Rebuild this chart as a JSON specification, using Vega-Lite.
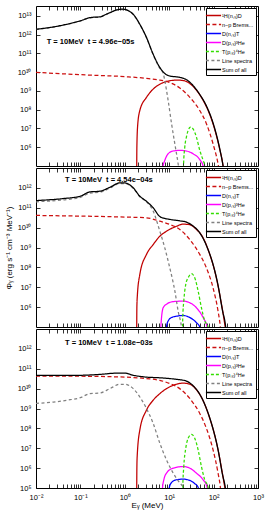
{
"$schema": "https://vega.github.io/schema/vega-lite/v6.json",
"background": "white",
"padding": {"left": 4, "top": 5, "right": 10, "bottom": 2},
"spacing": 0,
"config": {
  "view": {"stroke": "#000", "strokeWidth": 1},
  "axis": {"domain": false, "grid": false, "tickColor": "#000", "tickWidth": 0.8, "tickSize": -4, "minExtent": 0,
    "labelFont": "Liberation Sans", "labelFontSize": 7.5, "labelColor": "#000", "labelPadding": 9,
    "labelOverlap": false, "labelFlush": false, "labelBound": false,
    "titleFont": "Liberation Sans", "titleFontSize": 8, "titleFontWeight": "normal", "titleColor": "#000"},
  "legend": {"orient": "top-right", "offset": 2, "strokeColor": "#000", "fillColor": "#fff", "padding": 2,
    "labelFont": "Liberation Sans", "labelFontSize": 5.5, "labelColor": "#000", "symbolType": "M-1.6,0H1.6",
    "symbolSize": 90, "symbolStrokeWidth": 1.3, "rowPadding": 0, "title": null, "labelLimit": 60, "labelOffset": 3},
  "text": {"font": "Liberation Sans"}
},
"resolve": {"scale": {"color": "independent", "strokeDash": "independent"}, "legend": {"color": "independent", "strokeDash": "independent"}},
"datasets": {"d": [
{"p":1,"s":"H","e":1.84,"v":1e3},{"p":1,"s":"H","e":1.87,"v":1e6},{"p":1,"s":"H","e":1.95,"v":1.5e7},{"p":1,"s":"H","e":2.18,"v":9.1e7},{"p":1,"s":"H","e":3.08,"v":4.6e8},{"p":1,"s":"H","e":4.35,"v":1.26e9},{"p":1,"s":"H","e":6.15,"v":2.3e9},{"p":1,"s":"H","e":8.69,"v":3.2e9},{"p":1,"s":"H","e":14.6,"v":3.8e9},{"p":1,"s":"H","e":20.6,"v":3.6e9},{"p":1,"s":"H","e":29.1,"v":2.5e9},{"p":1,"s":"H","e":41,"v":1.1e9},{"p":1,"s":"H","e":58,"v":3.2e8},{"p":1,"s":"H","e":81.9,"v":5.6e7},{"p":1,"s":"H","e":106,"v":8.9e6},{"p":1,"s":"H","e":137,"v":7.9e5},{"p":1,"s":"H","e":163,"v":1e5},{"p":1,"s":"H","e":175,"v":2e4},
{"p":1,"s":"B","e":0.01,"v":9.8e9},{"p":1,"s":"B","e":0.0993,"v":7.4e9},{"p":1,"s":"B","e":1.0,"v":5.8e9},{"p":1,"s":"B","e":3.08,"v":4.7e9},{"p":1,"s":"B","e":6.15,"v":3.8e9},{"p":1,"s":"B","e":10,"v":2.9e9},{"p":1,"s":"B","e":17.3,"v":1.45e9},{"p":1,"s":"B","e":29.1,"v":4.6e8},{"p":1,"s":"B","e":48.8,"v":9.1e7},{"p":1,"s":"B","e":68.9,"v":1.8e7},{"p":1,"s":"B","e":97.3,"v":1.5e6},{"p":1,"s":"B","e":126,"v":1.3e5},{"p":1,"s":"B","e":140,"v":3e4},
{"p":1,"s":"DT","e":10,"v":1e3},{"p":1,"s":"DT","e":20,"v":3e4},{"p":1,"s":"DT","e":40,"v":1e3},
{"p":1,"s":"DHe","e":7.2,"v":1e3},{"p":1,"s":"DHe","e":7.31,"v":1e5},{"p":1,"s":"DHe","e":7.96,"v":2e5},{"p":1,"s":"DHe","e":9.47,"v":4.5e5},{"p":1,"s":"DHe","e":12.3,"v":6.3e5},{"p":1,"s":"DHe","e":17.3,"v":6.8e5},{"p":1,"s":"DHe","e":24.4,"v":6.3e5},{"p":1,"s":"DHe","e":34.5,"v":4.5e5},{"p":1,"s":"DHe","e":48.8,"v":2.2e5},{"p":1,"s":"DHe","e":58,"v":1e5},{"p":1,"s":"DHe","e":62,"v":1e4},
{"p":1,"s":"THe","e":20.6,"v":1e3},{"p":1,"s":"THe","e":21,"v":1e5},{"p":1,"s":"THe","e":22.4,"v":1e6},{"p":1,"s":"THe","e":24.4,"v":3.5e6},{"p":1,"s":"THe","e":26.7,"v":7.9e6},{"p":1,"s":"THe","e":30.1,"v":1.2e7},{"p":1,"s":"THe","e":34.5,"v":9.5e6},{"p":1,"s":"THe","e":41,"v":3.5e6},{"p":1,"s":"THe","e":48.8,"v":6.8e5},{"p":1,"s":"THe","e":58,"v":2e5},{"p":1,"s":"THe","e":63.2,"v":1e5},{"p":1,"s":"THe","e":68,"v":1e4},
{"p":1,"s":"L","e":0.01,"v":1.9e12},{"p":1,"s":"L","e":0.0412,"v":3.2e12},{"p":1,"s":"L","e":0.0993,"v":5.4e12},{"p":1,"s":"L","e":0.164,"v":8e12},{"p":1,"s":"L","e":0.275,"v":8.8e12},{"p":1,"s":"L","e":0.461,"v":1.48e13},{"p":1,"s":"L","e":0.652,"v":2.05e13},{"p":1,"s":"L","e":1.0,"v":2.2e13},{"p":1,"s":"L","e":1.55,"v":1.2e13},{"p":1,"s":"L","e":2.18,"v":3.5e12},{"p":1,"s":"L","e":3.08,"v":7e11},{"p":1,"s":"L","e":4.35,"v":8.8e10},{"p":1,"s":"L","e":6.15,"v":1.6e10},{"p":1,"s":"L","e":7.31,"v":9e9},{"p":1,"s":"L","e":7.96,"v":3.5e9},{"p":1,"s":"L","e":9.47,"v":3.1e8},{"p":1,"s":"L","e":11.3,"v":1.8e7},{"p":1,"s":"L","e":13.4,"v":1.5e6},{"p":1,"s":"L","e":15.9,"v":1.3e5},{"p":1,"s":"L","e":17.3,"v":3e4},
{"p":1,"s":"S","e":0.01,"v":1.95e12},{"p":1,"s":"S","e":0.0245,"v":2.6e12},{"p":1,"s":"S","e":0.0412,"v":3.3e12},{"p":1,"s":"S","e":0.0993,"v":5.5e12},{"p":1,"s":"S","e":0.164,"v":8.1e12},{"p":1,"s":"S","e":0.22,"v":8.7e12},{"p":1,"s":"S","e":0.275,"v":8.9e12},{"p":1,"s":"S","e":0.37,"v":1.2e13},{"p":1,"s":"S","e":0.461,"v":1.5e13},{"p":1,"s":"S","e":0.652,"v":2.1e13},{"p":1,"s":"S","e":0.85,"v":2.3e13},{"p":1,"s":"S","e":1.0,"v":2.24e13},{"p":1,"s":"S","e":1.2,"v":1.9e13},{"p":1,"s":"S","e":1.55,"v":1.23e13},{"p":1,"s":"S","e":2.18,"v":3.6e12},{"p":1,"s":"S","e":3.08,"v":7.1e11},{"p":1,"s":"S","e":4.35,"v":9.1e10},{"p":1,"s":"S","e":6.15,"v":1.8e10},{"p":1,"s":"S","e":7.96,"v":8.5e9},{"p":1,"s":"S","e":10.3,"v":6.3e9},{"p":1,"s":"S","e":17.3,"v":5.3e9},{"p":1,"s":"S","e":24.4,"v":4e9},{"p":1,"s":"S","e":34.5,"v":1.95e9},{"p":1,"s":"S","e":48.8,"v":6.5e8},{"p":1,"s":"S","e":68.9,"v":1.6e8},{"p":1,"s":"S","e":97.3,"v":1.95e7},{"p":1,"s":"S","e":126,"v":2.1e6},{"p":1,"s":"S","e":158,"v":1.6e5},{"p":1,"s":"S","e":175,"v":4e4},

{"p":2,"s":"H","e":1.84,"v":1e3},{"p":2,"s":"H","e":1.87,"v":1e6},{"p":2,"s":"H","e":1.92,"v":4e6},{"p":2,"s":"H","e":2.18,"v":4.4e7},{"p":2,"s":"H","e":3.08,"v":4.5e8},{"p":2,"s":"H","e":4.35,"v":1.4e9},{"p":2,"s":"H","e":6.15,"v":3.7e9},{"p":2,"s":"H","e":8.69,"v":6.6e9},{"p":2,"s":"H","e":14.6,"v":1.17e10},{"p":2,"s":"H","e":20.6,"v":1.5e10},{"p":2,"s":"H","e":29.1,"v":1.4e10},{"p":2,"s":"H","e":41,"v":8.1e9},{"p":2,"s":"H","e":58,"v":3.1e9},{"p":2,"s":"H","e":81.9,"v":4.5e8},{"p":2,"s":"H","e":106,"v":6.5e7},{"p":2,"s":"H","e":137,"v":4.4e6},{"p":2,"s":"H","e":169,"v":3e5},{"p":2,"s":"H","e":187,"v":6e4},{"p":2,"s":"H","e":200,"v":1e4},
{"p":2,"s":"B","e":0.01,"v":4.1e10},{"p":2,"s":"B","e":0.0993,"v":3.8e10},{"p":2,"s":"B","e":1.0,"v":3.4e10},{"p":2,"s":"B","e":3.08,"v":3.1e10},{"p":2,"s":"B","e":6.15,"v":2.1e10},{"p":2,"s":"B","e":10.3,"v":1.45e10},{"p":2,"s":"B","e":17.3,"v":8.1e9},{"p":2,"s":"B","e":29.1,"v":2.5e9},{"p":2,"s":"B","e":48.8,"v":4.5e8},{"p":2,"s":"B","e":68.9,"v":9.5e7},{"p":2,"s":"B","e":97.3,"v":9.3e6},{"p":2,"s":"B","e":126,"v":6.3e5},{"p":2,"s":"B","e":142,"v":1e5},{"p":2,"s":"B","e":155,"v":1e4},
{"p":2,"s":"DT","e":8.6,"v":1e3},{"p":2,"s":"DT","e":8.69,"v":1e5},{"p":2,"s":"DT","e":9.47,"v":2e5},{"p":2,"s":"DT","e":11.3,"v":3e5},{"p":2,"s":"DT","e":14.6,"v":3.5e5},{"p":2,"s":"DT","e":20.6,"v":3.8e5},{"p":2,"s":"DT","e":29.1,"v":3e5},{"p":2,"s":"DT","e":41,"v":1.66e5},{"p":2,"s":"DT","e":48.8,"v":1e5},{"p":2,"s":"DT","e":52,"v":1e4},
{"p":2,"s":"DHe","e":6.4,"v":1e3},{"p":2,"s":"DHe","e":6.48,"v":1e5},{"p":2,"s":"DHe","e":7.31,"v":9.3e5},{"p":2,"s":"DHe","e":8.69,"v":1.4e6},{"p":2,"s":"DHe","e":12.3,"v":1.9e6},{"p":2,"s":"DHe","e":20.6,"v":2e6},{"p":2,"s":"DHe","e":29.1,"v":1.66e6},{"p":2,"s":"DHe","e":41,"v":9.3e5},{"p":2,"s":"DHe","e":58,"v":3e5},{"p":2,"s":"DHe","e":71.3,"v":1e5},{"p":2,"s":"DHe","e":75,"v":1e4},
{"p":2,"s":"THe","e":19.7,"v":1e3},{"p":2,"s":"THe","e":20.2,"v":3e5},{"p":2,"s":"THe","e":21.3,"v":2e6},{"p":2,"s":"THe","e":23.6,"v":1.4e7},{"p":2,"s":"THe","e":26.7,"v":3e7},{"p":2,"s":"THe","e":31.7,"v":4.8e7},{"p":2,"s":"THe","e":37.6,"v":3e7},{"p":2,"s":"THe","e":44.8,"v":6.5e6},{"p":2,"s":"THe","e":53.2,"v":9.3e5},{"p":2,"s":"THe","e":63.2,"v":2e5},{"p":2,"s":"THe","e":75.1,"v":1e5},{"p":2,"s":"THe","e":80,"v":1e4},
{"p":2,"s":"L","e":0.01,"v":2e11},{"p":2,"s":"L","e":0.0412,"v":2.5e11},{"p":2,"s":"L","e":0.0993,"v":3.3e11},{"p":2,"s":"L","e":0.164,"v":5.5e11},{"p":2,"s":"L","e":0.275,"v":6e11},{"p":2,"s":"L","e":0.461,"v":9.8e11},{"p":2,"s":"L","e":0.775,"v":1.66e12},{"p":2,"s":"L","e":1.0,"v":1.66e12},{"p":2,"s":"L","e":1.55,"v":9.5e11},{"p":2,"s":"L","e":2.18,"v":3.6e11},{"p":2,"s":"L","e":3.08,"v":2e11},{"p":2,"s":"L","e":4.35,"v":6.8e10},{"p":2,"s":"L","e":6.15,"v":6.6e9},{"p":2,"s":"L","e":7.96,"v":9.5e8},{"p":2,"s":"L","e":10.3,"v":9.5e7},{"p":2,"s":"L","e":13.4,"v":6.5e6},{"p":2,"s":"L","e":15.9,"v":6.3e5},{"p":2,"s":"L","e":18.9,"v":1e5},{"p":2,"s":"L","e":21,"v":1e4},
{"p":2,"s":"S","e":0.01,"v":2.3e11},{"p":2,"s":"S","e":0.0412,"v":2.9e11},{"p":2,"s":"S","e":0.0993,"v":3.8e11},{"p":2,"s":"S","e":0.164,"v":6.3e11},{"p":2,"s":"S","e":0.275,"v":6.8e11},{"p":2,"s":"S","e":0.461,"v":1.07e12},{"p":2,"s":"S","e":0.775,"v":1.78e12},{"p":2,"s":"S","e":1.0,"v":1.78e12},{"p":2,"s":"S","e":1.55,"v":1e12},{"p":2,"s":"S","e":2.18,"v":3.8e11},{"p":2,"s":"S","e":3.08,"v":2.1e11},{"p":2,"s":"S","e":4.35,"v":1e11},{"p":2,"s":"S","e":6.15,"v":3.6e10},{"p":2,"s":"S","e":7.96,"v":2.9e10},{"p":2,"s":"S","e":10.3,"v":2.6e10},{"p":2,"s":"S","e":17.3,"v":2.2e10},{"p":2,"s":"S","e":24.4,"v":1.9e10},{"p":2,"s":"S","e":34.5,"v":1.2e10},{"p":2,"s":"S","e":48.8,"v":5.5e9},{"p":2,"s":"S","e":68.9,"v":1.26e9},{"p":2,"s":"S","e":97.3,"v":1.4e8},{"p":2,"s":"S","e":126,"v":1.26e7},{"p":2,"s":"S","e":158,"v":7e5},{"p":2,"s":"S","e":187,"v":1e5},{"p":2,"s":"S","e":200,"v":2e4},

{"p":3,"s":"H","e":1.84,"v":1e3},{"p":3,"s":"H","e":1.87,"v":1e6},{"p":3,"s":"H","e":1.9,"v":3.8e6},{"p":3,"s":"H","e":2.18,"v":8.3e7},{"p":3,"s":"H","e":3.08,"v":8.3e8},{"p":3,"s":"H","e":4.35,"v":2.6e9},{"p":3,"s":"H","e":6.15,"v":5.6e9},{"p":3,"s":"H","e":8.69,"v":1e10},{"p":3,"s":"H","e":14.6,"v":1.66e10},{"p":3,"s":"H","e":20.6,"v":1.9e10},{"p":3,"s":"H","e":29.1,"v":1.66e10},{"p":3,"s":"H","e":41,"v":8.9e9},{"p":3,"s":"H","e":58,"v":2.5e9},{"p":3,"s":"H","e":81.9,"v":3.2e8},{"p":3,"s":"H","e":106,"v":4.5e7},{"p":3,"s":"H","e":137,"v":3.2e6},{"p":3,"s":"H","e":169,"v":2.2e5},{"p":3,"s":"H","e":184,"v":7e4},{"p":3,"s":"H","e":200,"v":1e4},
{"p":3,"s":"B","e":0.01,"v":4.3e10},{"p":3,"s":"B","e":0.0993,"v":4.2e10},{"p":3,"s":"B","e":1.0,"v":3.8e10},{"p":3,"s":"B","e":3.08,"v":3.2e10},{"p":3,"s":"B","e":6.15,"v":2.6e10},{"p":3,"s":"B","e":10.3,"v":1.8e10},{"p":3,"s":"B","e":17.3,"v":1e10},{"p":3,"s":"B","e":29.1,"v":3.2e9},{"p":3,"s":"B","e":48.8,"v":5.6e8},{"p":3,"s":"B","e":68.9,"v":1e8},{"p":3,"s":"B","e":97.3,"v":8.3e6},{"p":3,"s":"B","e":126,"v":5.6e5},{"p":3,"s":"B","e":142,"v":1.1e5},{"p":3,"s":"B","e":155,"v":1e4},
{"p":3,"s":"DT","e":9.9,"v":1e3},{"p":3,"s":"DT","e":10,"v":1e5},{"p":3,"s":"DT","e":11.3,"v":1.9e5},{"p":3,"s":"DT","e":14.6,"v":2.6e5},{"p":3,"s":"DT","e":20.6,"v":2.8e5},{"p":3,"s":"DT","e":29.1,"v":2.4e5},{"p":3,"s":"DT","e":37.6,"v":1.66e5},{"p":3,"s":"DT","e":44.8,"v":1.1e5},{"p":3,"s":"DT","e":48,"v":1e4},
{"p":3,"s":"DHe","e":7.0,"v":1e3},{"p":3,"s":"DHe","e":7.06,"v":1e5},{"p":3,"s":"DHe","e":7.57,"v":2.6e5},{"p":3,"s":"DHe","e":8.69,"v":5.6e5},{"p":3,"s":"DHe","e":12.3,"v":1e6},{"p":3,"s":"DHe","e":20.6,"v":1.2e6},{"p":3,"s":"DHe","e":29.1,"v":1e6},{"p":3,"s":"DHe","e":41,"v":5.6e5},{"p":3,"s":"DHe","e":58,"v":2.6e5},{"p":3,"s":"DHe","e":71.3,"v":1.1e5},{"p":3,"s":"DHe","e":75,"v":1e4},
{"p":3,"s":"THe","e":19.9,"v":1e3},{"p":3,"s":"THe","e":20.2,"v":1e5},{"p":3,"s":"THe","e":21.3,"v":1.2e6},{"p":3,"s":"THe","e":23.6,"v":1e7},{"p":3,"s":"THe","e":26.7,"v":3.2e7},{"p":3,"s":"THe","e":31.7,"v":5e7},{"p":3,"s":"THe","e":37.6,"v":3.2e7},{"p":3,"s":"THe","e":44.8,"v":8.3e6},{"p":3,"s":"THe","e":53.2,"v":1.2e6},{"p":3,"s":"THe","e":63.2,"v":2.6e5},{"p":3,"s":"THe","e":75.1,"v":1.1e5},{"p":3,"s":"THe","e":80,"v":1e4},
{"p":3,"s":"L","e":0.01,"v":1.8e9},{"p":3,"s":"L","e":0.0245,"v":2.1e9},{"p":3,"s":"L","e":0.049,"v":2.6e9},{"p":3,"s":"L","e":0.0993,"v":3.5e9},{"p":3,"s":"L","e":0.164,"v":5.6e9},{"p":3,"s":"L","e":0.275,"v":6e9},{"p":3,"s":"L","e":0.461,"v":1e10},{"p":3,"s":"L","e":0.775,"v":1.66e10},{"p":3,"s":"L","e":1.0,"v":1.66e10},{"p":3,"s":"L","e":1.55,"v":1e10},{"p":3,"s":"L","e":2.18,"v":3.8e9},{"p":3,"s":"L","e":3.08,"v":1e9},{"p":3,"s":"L","e":4.35,"v":1.8e8},{"p":3,"s":"L","e":6.15,"v":1.8e7},{"p":3,"s":"L","e":8.69,"v":2.6e6},{"p":3,"s":"L","e":12.3,"v":5.6e5},{"p":3,"s":"L","e":17.3,"v":1.8e5},{"p":3,"s":"L","e":20.6,"v":1.1e5},{"p":3,"s":"L","e":25,"v":3e4},
{"p":3,"s":"S","e":0.01,"v":4.7e10},{"p":3,"s":"S","e":0.0993,"v":4.7e10},{"p":3,"s":"S","e":0.275,"v":5.2e10},{"p":3,"s":"S","e":0.652,"v":6e10},{"p":3,"s":"S","e":1.0,"v":6e10},{"p":3,"s":"S","e":1.55,"v":4.7e10},{"p":3,"s":"S","e":3.08,"v":3.8e10},{"p":3,"s":"S","e":6.15,"v":3.5e10},{"p":3,"s":"S","e":10.3,"v":3.2e10},{"p":3,"s":"S","e":17.3,"v":2.8e10},{"p":3,"s":"S","e":24.4,"v":2.4e10},{"p":3,"s":"S","e":34.5,"v":1.4e10},{"p":3,"s":"S","e":48.8,"v":5.2e9},{"p":3,"s":"S","e":68.9,"v":1e9},{"p":3,"s":"S","e":97.3,"v":9.3e7},{"p":3,"s":"S","e":126,"v":8.5e6},{"p":3,"s":"S","e":158,"v":5e5},{"p":3,"s":"S","e":184,"v":1e5},{"p":3,"s":"S","e":200,"v":2e4}
]},
"vconcat": [
{
  "width": 222, "height": 160,
  "resolve": {"axis": {"x": "independent", "y": "independent"}},
  "layer": [
    {"data": {"name": "d"}, "transform": [{"filter": "datum.p == 1"}],
     "mark": {"type": "line", "clip": true, "strokeWidth": 1.25, "interpolate": "monotone"},
     "encoding": {
       "x": {"field": "e", "type": "quantitative", "scale": {"type": "log", "domain": [0.01, 1000], "nice": false},
             "axis": {"title": null, "labels": false, "values": [0.02,0.03,0.04,0.05,0.06,0.07,0.08,0.09,0.1,0.2,0.3,0.4,0.5,0.6,0.7,0.8,0.9,1,2,3,4,5,6,7,8,9,10,20,30,40,50,60,70,80,90,100,200,300,400,500,600,700,800,900],
               "encode": {"ticks": {"update": {"y2": {"signal": "abs(log(datum.value)/LN10 - round(log(datum.value)/LN10)) < 0.001 ? -4 : -2"}}}}}},
       "y": {"field": "v", "type": "quantitative", "scale": {"type": "log", "domain": [1e5, 3.4e13], "nice": false},
             "axis": {"title": null, "values": [1e6,1e7,1e8,1e9,1e10,1e11,1e12,1e13],
               "labelExpr": "'10' + ['⁵','⁶','⁷','⁸','⁹','¹⁰','¹¹','¹²','¹³'][round(log(datum.value)/LN10)-5]"}},
       "color": {"field": "s", "type": "nominal", "scale": {"domain": ["H","B","DT","DHe","THe","L","S"], "range": ["#c00000","#cc1010","#0000ff","#ff00ff","#33dd00","#808080","#000000"]},
         "legend": {"labelExpr": "datum.label == 'H' ? '¹H(n,ᵧ)D' : datum.label == 'B' ? 'n−p Brems...' : datum.label == 'DT' ? 'D(n,ᵧ)T' : datum.label == 'DHe' ? 'D(p,ᵧ)³He' : datum.label == 'THe' ? 'T(p,ᵧ)⁴He' : datum.label == 'L' ? 'Line spectra' : 'Sum of all'"}},
       "strokeDash": {"field": "s", "type": "nominal", "scale": {"domain": ["H","B","DT","DHe","THe","L","S"], "range": [[1,0],[4,2.5],[1,0],[1,0],[3,2],[3,2.5],[1,0]]},
         "legend": {"labelExpr": "datum.label == 'H' ? '¹H(n,ᵧ)D' : datum.label == 'B' ? 'n−p Brems...' : datum.label == 'DT' ? 'D(n,ᵧ)T' : datum.label == 'DHe' ? 'D(p,ᵧ)³He' : datum.label == 'THe' ? 'T(p,ᵧ)⁴He' : datum.label == 'L' ? 'Line spectra' : 'Sum of all'"}}
     }},
    {"data": {"values": [{}]},
     "mark": {"type": "text", "align": "left", "baseline": "middle", "fontSize": 7.5, "fontWeight": "bold", "font": "Liberation Sans"},
     "encoding": {
       "x": {"datum": 0.0174, "type": "quantitative", "axis": {"orient": "top", "title": null, "labels": false, "values": [0.02,0.03,0.04,0.05,0.06,0.07,0.08,0.09,0.1,0.2,0.3,0.4,0.5,0.6,0.7,0.8,0.9,1,2,3,4,5,6,7,8,9,10,20,30,40,50,60,70,80,90,100,200,300,400,500,600,700,800,900],
               "encode": {"ticks": {"update": {"y2": {"signal": "abs(log(datum.value)/LN10 - round(log(datum.value)/LN10)) < 0.001 ? 4 : 2"}}}}}},
       "y": {"datum": 4e11, "type": "quantitative", "axis": {"orient": "right", "title": null, "labels": false, "values": [1e6,1e7,1e8,1e9,1e10,1e11,1e12,1e13]}},
       "text": {"value": "T = 10MeV\u00a0\u00a0t = 4.96e−05s"}
     }}
  ]
},
{
  "width": 222, "height": 159,
  "resolve": {"axis": {"x": "independent", "y": "independent"}},
  "layer": [
    {"data": {"name": "d"}, "transform": [{"filter": "datum.p == 2"}],
     "mark": {"type": "line", "clip": true, "strokeWidth": 1.25, "interpolate": "monotone"},
     "encoding": {
       "x": {"field": "e", "type": "quantitative", "scale": {"type": "log", "domain": [0.01, 1000], "nice": false},
             "axis": {"title": null, "labels": false, "values": [0.02,0.03,0.04,0.05,0.06,0.07,0.08,0.09,0.1,0.2,0.3,0.4,0.5,0.6,0.7,0.8,0.9,1,2,3,4,5,6,7,8,9,10,20,30,40,50,60,70,80,90,100,200,300,400,500,600,700,800,900],
               "encode": {"ticks": {"update": {"y2": {"signal": "abs(log(datum.value)/LN10 - round(log(datum.value)/LN10)) < 0.001 ? -4 : -2"}}}}}},
       "y": {"field": "v", "type": "quantitative", "scale": {"type": "log", "domain": [1e5, 1e13], "nice": false},
             "axis": {"title": "Φᵧ (erg s⁻¹ cm⁻³ MeV⁻¹)", "titlePadding": 4, "values": [1e6,1e7,1e8,1e9,1e10,1e11,1e12],
               "labelExpr": "'10' + ['⁵','⁶','⁷','⁸','⁹','¹⁰','¹¹','¹²','¹³'][round(log(datum.value)/LN10)-5]"}},
       "color": {"field": "s", "type": "nominal", "scale": {"domain": ["H","B","DT","DHe","THe","L","S"], "range": ["#c00000","#cc1010","#0000ff","#ff00ff","#33dd00","#808080","#000000"]},
         "legend": {"labelExpr": "datum.label == 'H' ? '¹H(n,ᵧ)D' : datum.label == 'B' ? 'n−p Brems...' : datum.label == 'DT' ? 'D(n,ᵧ)T' : datum.label == 'DHe' ? 'D(p,ᵧ)³He' : datum.label == 'THe' ? 'T(p,ᵧ)⁴He' : datum.label == 'L' ? 'Line spectra' : 'Sum of all'"}},
       "strokeDash": {"field": "s", "type": "nominal", "scale": {"domain": ["H","B","DT","DHe","THe","L","S"], "range": [[1,0],[4,2.5],[1,0],[1,0],[3,2],[3,2.5],[1,0]]},
         "legend": {"labelExpr": "datum.label == 'H' ? '¹H(n,ᵧ)D' : datum.label == 'B' ? 'n−p Brems...' : datum.label == 'DT' ? 'D(n,ᵧ)T' : datum.label == 'DHe' ? 'D(p,ᵧ)³He' : datum.label == 'THe' ? 'T(p,ᵧ)⁴He' : datum.label == 'L' ? 'Line spectra' : 'Sum of all'"}}
     }},
    {"data": {"values": [{}]},
     "mark": {"type": "text", "align": "left", "baseline": "middle", "fontSize": 7.5, "fontWeight": "bold", "font": "Liberation Sans"},
     "encoding": {
       "x": {"datum": 0.045, "type": "quantitative", "axis": {"orient": "top", "title": null, "labels": false, "values": [0.02,0.03,0.04,0.05,0.06,0.07,0.08,0.09,0.1,0.2,0.3,0.4,0.5,0.6,0.7,0.8,0.9,1,2,3,4,5,6,7,8,9,10,20,30,40,50,60,70,80,90,100,200,300,400,500,600,700,800,900],
               "encode": {"ticks": {"update": {"y2": {"signal": "abs(log(datum.value)/LN10 - round(log(datum.value)/LN10)) < 0.001 ? 4 : 2"}}}}}},
       "y": {"datum": 2.4e12, "type": "quantitative", "axis": {"orient": "right", "title": null, "labels": false, "values": [1e6,1e7,1e8,1e9,1e10,1e11,1e12]}},
       "text": {"value": "T = 10MeV\u00a0\u00a0t = 4.54e−04s"}
     }}
  ]
},
{
  "width": 222, "height": 159,
  "resolve": {"axis": {"x": "independent", "y": "independent"}},
  "layer": [
    {"data": {"name": "d"}, "transform": [{"filter": "datum.p == 3"}],
     "mark": {"type": "line", "clip": true, "strokeWidth": 1.25, "interpolate": "monotone"},
     "encoding": {
       "x": {"field": "e", "type": "quantitative", "scale": {"type": "log", "domain": [0.01, 1000], "nice": false},
             "axis": {"title": "Eᵧ (MeV)", "titlePadding": 1, "values": [0.01,0.02,0.03,0.04,0.05,0.06,0.07,0.08,0.09,0.1,0.2,0.3,0.4,0.5,0.6,0.7,0.8,0.9,1,2,3,4,5,6,7,8,9,10,20,30,40,50,60,70,80,90,100,200,300,400,500,600,700,800,900,1000],
               "labelExpr": "abs(log(datum.value)/LN10 - round(log(datum.value)/LN10)) < 0.001 ? '10' + ['⁻²','⁻¹','⁰','¹','²','³'][round(log(datum.value)/LN10)+2] : ''",
               "encode": {"ticks": {"update": {"y2": {"signal": "abs(log(datum.value)/LN10 - round(log(datum.value)/LN10)) < 0.001 ? -4 : -2"}}}}}},
       "y": {"field": "v", "type": "quantitative", "scale": {"type": "log", "domain": [1e5, 1e13], "nice": false},
             "axis": {"title": null, "values": [1e5,1e6,1e7,1e8,1e9,1e10,1e11,1e12],
               "labelExpr": "'10' + ['⁵','⁶','⁷','⁸','⁹','¹⁰','¹¹','¹²','¹³'][round(log(datum.value)/LN10)-5]"}},
       "color": {"field": "s", "type": "nominal", "scale": {"domain": ["H","B","DT","DHe","THe","L","S"], "range": ["#c00000","#cc1010","#0000ff","#ff00ff","#33dd00","#808080","#000000"]},
         "legend": {"labelExpr": "datum.label == 'H' ? '¹H(n,ᵧ)D' : datum.label == 'B' ? 'n−p Brems...' : datum.label == 'DT' ? 'D(n,ᵧ)T' : datum.label == 'DHe' ? 'D(p,ᵧ)³He' : datum.label == 'THe' ? 'T(p,ᵧ)⁴He' : datum.label == 'L' ? 'Line spectra' : 'Sum of all'"}},
       "strokeDash": {"field": "s", "type": "nominal", "scale": {"domain": ["H","B","DT","DHe","THe","L","S"], "range": [[1,0],[4,2.5],[1,0],[1,0],[3,2],[3,2.5],[1,0]]},
         "legend": {"labelExpr": "datum.label == 'H' ? '¹H(n,ᵧ)D' : datum.label == 'B' ? 'n−p Brems...' : datum.label == 'DT' ? 'D(n,ᵧ)T' : datum.label == 'DHe' ? 'D(p,ᵧ)³He' : datum.label == 'THe' ? 'T(p,ᵧ)⁴He' : datum.label == 'L' ? 'Line spectra' : 'Sum of all'"}}
     }},
    {"data": {"values": [{}]},
     "mark": {"type": "text", "align": "left", "baseline": "middle", "fontSize": 7.5, "fontWeight": "bold", "font": "Liberation Sans"},
     "encoding": {
       "x": {"datum": 0.045, "type": "quantitative", "axis": {"orient": "top", "title": null, "labels": false, "values": [0.02,0.03,0.04,0.05,0.06,0.07,0.08,0.09,0.1,0.2,0.3,0.4,0.5,0.6,0.7,0.8,0.9,1,2,3,4,5,6,7,8,9,10,20,30,40,50,60,70,80,90,100,200,300,400,500,600,700,800,900],
               "encode": {"ticks": {"update": {"y2": {"signal": "abs(log(datum.value)/LN10 - round(log(datum.value)/LN10)) < 0.001 ? 4 : 2"}}}}}},
       "y": {"datum": 1.9e12, "type": "quantitative", "axis": {"orient": "right", "title": null, "labels": false, "values": [1e5,1e6,1e7,1e8,1e9,1e10,1e11,1e12]}},
       "text": {"value": "T = 10MeV\u00a0\u00a0t = 1.08e−03s"}
     }}
  ]
}
]
}
